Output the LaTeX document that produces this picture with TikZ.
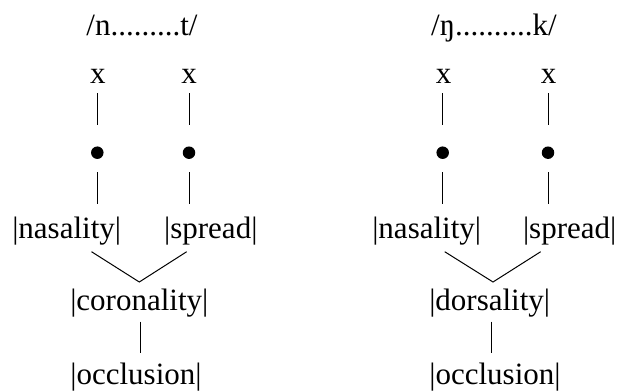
\documentclass[tikz,border=0pt]{standalone}
\usepackage{fontspec}
\setmainfont{Liberation Serif}
\begin{document}
\begin{tikzpicture}[x=1pt,y=-1pt,
  lbl/.style={inner sep=0pt, anchor=base, font=\fontsize{31}{36}\selectfont},
  dotnode/.style={circle, fill=black, inner sep=0pt, minimum size=12.5pt},
  ln/.style={line width=1pt}]
\useasboundingbox (0,0) rectangle (618,391);
% left tree
\node[lbl] (t1) at (142,35) {/n.........t/};
\node[lbl] (xa) at (97.8,83) {x};
\node[lbl] (xb) at (189,83) {x};
\node[dotnode] (da) at (97.3,152.7) {};
\node[dotnode] (db) at (189,152.7) {};
\node[lbl] (na) at (66.7,238.3) {|nasality|};
\node[lbl] (sa) at (210.8,238.3) {|spread|};
\node[lbl] (ca) at (139.3,310) {|coronality|};
\node[lbl] (oa) at (136,384.2) {|occlusion|};
\coordinate (xa1) at (97.3,93); \coordinate (xa2) at (97.3,125);
\coordinate (xb1) at (189,93); \coordinate (xb2) at (189,125);
\coordinate (da1) at (97.3,172); \coordinate (da2) at (97.3,204);
\coordinate (db1) at (189,172); \coordinate (db2) at (189,204);
\coordinate (va1) at (91.5,251.7); \coordinate (va2) at (139.3,282); \coordinate (va3) at (186.7,251.7);
\coordinate (ba1) at (140,321.7); \coordinate (ba2) at (140,353);
\draw[ln] (xa1) -- (xa2); \draw[ln] (xb1) -- (xb2);
\draw[ln] (da1) -- (da2); \draw[ln] (db1) -- (db2);
\draw[ln] (va1) -- (va2) -- (va3);
\draw[ln] (ba1) -- (ba2);
% right tree
\node[lbl] (t2) at (494,35) {/ŋ..........k/};
\node[lbl] (xc) at (443.5,83) {x};
\node[lbl] (xd) at (548.5,83) {x};
\node[dotnode] (dc) at (442.7,152.7) {};
\node[dotnode] (dd) at (548,152.7) {};
\node[lbl] (nb) at (426.7,238.3) {|nasality|};
\node[lbl] (sb) at (569.7,238.3) {|spread|};
\node[lbl] (cb) at (489.7,310) {|dorsality|};
\node[lbl] (ob) at (495,384.2) {|occlusion|};
\coordinate (xc1) at (442.7,93); \coordinate (xc2) at (442.7,125);
\coordinate (xd1) at (548,93); \coordinate (xd2) at (548,125);
\coordinate (dc1) at (442.7,172); \coordinate (dc2) at (442.7,204);
\coordinate (dd1) at (548,172); \coordinate (dd2) at (548,204);
\coordinate (vb1) at (444.7,251.7); \coordinate (vb2) at (493,282); \coordinate (vb3) at (540.7,251.7);
\coordinate (bb1) at (491.3,321.7); \coordinate (bb2) at (491.3,353);
\draw[ln] (xc1) -- (xc2); \draw[ln] (xd1) -- (xd2);
\draw[ln] (dc1) -- (dc2); \draw[ln] (dd1) -- (dd2);
\draw[ln] (vb1) -- (vb2) -- (vb3);
\draw[ln] (bb1) -- (bb2);
\end{tikzpicture}
\end{document}
